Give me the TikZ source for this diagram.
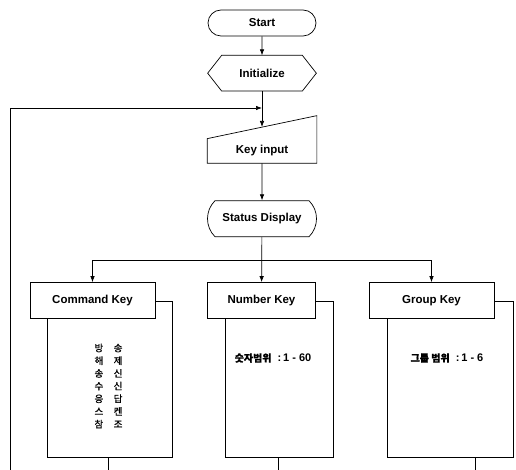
\documentclass[tikz,border=0pt]{standalone}
\usepackage{fontspec}
\setmainfont{Liberation Sans}
\newfontfamily\kor[FakeBold=1]{Noto Sans CJK KR}
\usepackage{tikz}
\usetikzlibrary{shapes.misc,arrows.meta,positioning,calc}

\begin{document}
\begin{tikzpicture}[
    x=1pt, y=-1pt,
    line width=0.7pt,
    txt/.style={font=\fontsize{11.5}{13}\selectfont\bfseries},
    term/.style={rounded rectangle, draw, txt, minimum width=108pt, minimum height=26pt, inner sep=0pt},
    prep/.style={rectangle, txt, minimum width=108pt, minimum height=35pt, inner sep=0pt},
    kin/.style={rectangle, txt, minimum width=109pt, minimum height=24pt, inner sep=0pt},
    disp/.style={rounded rectangle, rounded rectangle arc length=90, draw, txt, minimum width=109pt, minimum height=36pt, inner sep=0pt},
    keyhead/.style={rectangle, draw, fill=white, txt, minimum height=36pt, inner sep=0pt},
    keybody/.style={rectangle, draw, minimum height=156pt, inner sep=0pt},
    arrow/.style={-{Latex[length=6pt,width=4.5pt]}}
]
    \useasboundingbox (0,0) rectangle (516,470);

    % main chain
    \node[term] (start) at (262,23) {Start};
    \node[prep, below=19pt of start] (init) {Initialize};
    \draw (init.west) -- ([xshift=14pt]init.north west) -- ([xshift=-14pt]init.north east)
        -- (init.east) -- ([xshift=-14pt]init.south east) -- ([xshift=14pt]init.south west) -- cycle;
    \node[kin] (keyin) at (262,151) {Key input};
    \draw (keyin.south west) -- (keyin.north west) -- ([yshift=23pt]keyin.north east)
        -- (keyin.south east) -- cycle;
    \coordinate (kintop) at (262,127);
    \node[disp, below=37pt of keyin] (status) {Status Display};

    % key bodies (drawn first, heads cover them)
    \node[keybody, minimum width=125pt,
        label={[xshift=-1pt, yshift=-7pt, font=\kor\fontsize{9.5}{12.7}\selectfont, align=center]center:
        방\hspace{1.1em}송\\해\hspace{1.1em}제\\송\hspace{1.1em}신\\수\hspace{1.1em}신\\응\hspace{1.1em}답\\스\hspace{1.1em}켄\\참\hspace{1.1em}조}]
        (cmdbody) at (109.5,379) {};
    \node[keybody, minimum width=108pt,
        label={[xshift=-6pt, yshift=21pt, font=\fontsize{11}{12}\selectfont\bfseries]center:{\kor\fontsize{10}{12}\selectfont 숫자범위}~~:\,1 - 60}]
        (numbody) at (279,379) {};
    \node[keybody, minimum width=126pt,
        label={[xshift=-3pt, yshift=21pt, font=\fontsize{11}{12}\selectfont\bfseries]center:{\kor\fontsize{10}{12}\selectfont 그룹 범위}~~:\,1 - 6}]
        (grpbody) at (450,379) {};

    \node[keyhead, minimum width=125pt] (cmd) at (92.5,300.5) {Command Key};
    \node[keyhead, minimum width=108pt] (num) at (261.5,300.5) {Number Key};
    \node[keyhead, minimum width=125pt] (grp) at (431.5,300.5) {Group Key};

    % connectors
    \coordinate (split) at (261.5,260);
    \coordinate (join) at (262,108);
    \coordinate (loopin) at (10,470);
    \coordinate (cmdout) at (108,470);
    \coordinate (numout) at (278,470);
    \coordinate (grpout) at (475,470);

    \draw[arrow] (start) -- (init);
    \draw[arrow] (init) -- (kintop);
    \draw[arrow] (loopin) |- (join);
    \draw[arrow] (keyin) -- (status);
    \draw[arrow] (status) -- (num);
    \draw[arrow] (split) -| (cmd);
    \draw[arrow] (split) -| (grp);
    \draw (cmdbody.south -| cmdout) -- (cmdout);
    \draw (numbody.south -| numout) -- (numout);
    \draw (grpbody.south -| grpout) -- (grpout);
\end{tikzpicture}
\end{document}
